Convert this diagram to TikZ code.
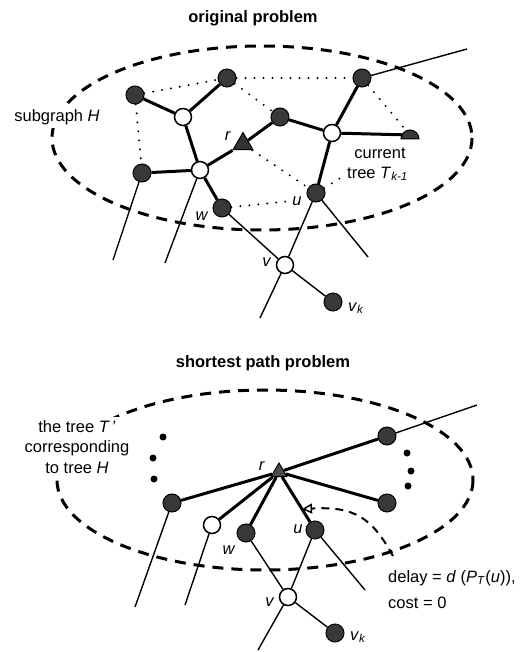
\documentclass[tikz,border=0pt]{standalone}
\usepackage{fontspec}
\setmainfont{Liberation Sans}
\usetikzlibrary{shapes.geometric,arrows.meta,calc}

\begin{document}
\begin{tikzpicture}[x=1pt,y=-1pt,
  every node/.style={font=\fontsize{16.5}{20.5}\selectfont},
  dark/.style={circle,draw=black,fill=black!78,line width=1pt,minimum size=18pt,inner sep=0pt},
  light/.style={circle,draw=black,fill=white,line width=1.5pt,minimum size=17pt,inner sep=0pt},
  root/.style={regular polygon,regular polygon sides=3,draw=black,fill=black!80,line width=1pt,inner sep=0pt},
  treeedge/.style={line width=3pt},
  thinedge/.style={line width=1.4pt},
  dotedge/.style={line width=2.2pt,dash pattern=on 0pt off 9pt,line cap=round},
  region/.style={line width=3pt,dash pattern=on 11pt off 8pt},
  lbl/.style={inner sep=0pt},
  masklbl/.style={fill=white,inner sep=3pt},
  title/.style={font=\fontsize{16.5}{20}\selectfont\bfseries,inner sep=0pt}
]
\useasboundingbox (0,0) rectangle (524,652);

% ---------------- upper panel ----------------
\node[title] (t1) at (253,18) {original problem};
\draw[region] (262,138) ellipse [x radius=210, y radius=92];

\node[dark]  (A)  at (135,95)  {};
\node[dark]  (B)  at (227,78)  {};
\node[light] (C)  at (183,117) {};
\node[dark]  (D)  at (280,117) {};
\node[dark]  (E)  at (362,78)  {};
\node[light] (F)  at (332,133) {};
\coordinate  (G)  at (410,135);
\node[root,minimum size=23pt] (r) at (243,144) {};
\node[light] (H)  at (200,170) {};
\node[dark]  (I)  at (142,173) {};
\node[dark]  (w)  at (222,208) {};
\node[dark]  (u)  at (316,193) {};
\node[light] (v)  at (285,265) {};
\node[dark]  (vk) at (333,302) {};

\coordinate (e1) at (113,260);
\coordinate (e2) at (165,263);
\coordinate (e3) at (368,257);
\coordinate (e4) at (467,49);
\coordinate (e5) at (260,318);

\node[lbl] (lr)  at (228,136) {\textit{r}};
\node[lbl] (lw)  at (202,216) {\textit{w}};
\node[lbl] (lu)  at (297,201) {\textit{u}};
\node[lbl] (lv)  at (267,262) {\textit{v}};
\node[lbl] (lvk) at (356,308) {\textit{v}\textsubscript{\textit{k}}};
\node[masklbl] (lH)  at (57,117)  {subgraph \textit{H}};
\node[lbl] (lcur) at (380,153) {current};
\node[lbl,anchor=west] (ltree) at (347,174) {tree \textit{T}\textsubscript{\textit{k-1}}};

% tree edges
\draw[treeedge] (A) -- (C);
\draw[treeedge] (B) -- (C);
\draw[treeedge] (C) -- (H);
\draw[treeedge] (H) -- (I);
\draw[treeedge] (H) -- (r);
\draw[treeedge] (r) -- (D);
\draw[treeedge] (D) -- (F);
\draw[treeedge] (F) -- (E);
\draw[treeedge] (F) -- (G);
\draw[treeedge] (F) -- (u);
\draw[treeedge] (H) -- (w);

% remaining graph edges
\draw[thinedge] (w) -- (v);
\draw[thinedge] (v) -- (vk);
\draw[thinedge] (u) -- (v);
\draw[thinedge] (v) -- (e5);
\draw[thinedge] (I) -- (e1);
\draw[thinedge] (H) -- (e2);
\draw[thinedge] (u) -- (e3);
\draw[thinedge] (E) -- (e4);

% edges of H outside the tree
\draw[dotedge] (A) -- (B);
\draw[dotedge] (A) -- (I);
\draw[dotedge] (B) -- (E);
\draw[dotedge] (B) -- (D);
\draw[dotedge] (E) -- (G);
\draw[dotedge] (r) -- (u);
\draw[dotedge] (w) -- (lu.west);
\draw[dotedge] (u) -- (ltree.west);

% half-disc leaf
\filldraw[fill=black!78,draw=black,line width=1pt] (401,139) arc[start angle=180,end angle=360,radius=9] -- cycle;

% ---------------- lower panel ----------------
\node[title] (t2) at (263,363) {shortest path problem};
\draw[region] (265,480) ellipse [x radius=208, y radius=90];

\node[root,minimum size=18pt,fill=black!70] (r2) at (279,472) {};
\node[dark]  (P1)  at (387,436) {};
\node[dark]  (P2)  at (387,503) {};
\node[dark]  (P3)  at (172,503) {};
\node[light] (P4)  at (212,525) {};
\node[dark]  (w2)  at (246,533) {};
\node[dark]  (u2)  at (315,530) {};
\node[light] (v2)  at (288,597) {};
\node[dark]  (vk2) at (335,633) {};

\coordinate (f1) at (477,405);
\coordinate (f2) at (135,607);
\coordinate (f3) at (185,605);
\coordinate (f4) at (365,590);
\coordinate (f5) at (258,650);

\draw[treeedge] (r2) -- (P1);
\draw[treeedge] (r2) -- (P2);
\draw[treeedge] (r2) -- (P3);
\draw[treeedge] (r2) -- (P4);
\draw[treeedge] (r2) -- (w2);
\draw[treeedge] (r2) -- (u2);

\draw[thinedge] (P1) -- (f1);
\draw[thinedge] (P3) -- (f2);
\draw[thinedge] (P4) -- (f3);
\draw[thinedge] (u2) -- (f4);
\draw[thinedge] (u2) -- (v2);
\draw[thinedge] (v2) -- (f5);
\draw[thinedge] (w2) -- (v2);
\draw[thinedge] (v2) -- (vk2);

% elided nodes
\foreach \p in {(163,437),(153,458),(154,479),(407,453),(411,471),(408,486)}
  \fill \p circle[radius=3.5];

\node[lbl] (lr2)  at (262,466) {\textit{r}};
\node[lbl] (lw2)  at (229,550) {\textit{w}};
\node[lbl] (lu2)  at (298,529) {\textit{u}};
\node[lbl] (lv2)  at (270,602) {\textit{v}};
\node[lbl] (lvk2) at (358,637) {\textit{v}\textsubscript{\textit{k}}};
\node[masklbl,align=center] (lT) at (77,447) {the tree \textit{T\,'}\\corresponding\\to tree \textit{H}};
\node[lbl,anchor=west] (ldelay) at (388,578) {delay = \textit{d} (\textit{P}\textsubscript{\textit{T}}(\textit{u})),};
\node[lbl,anchor=west] (lcost) at (388,603) {cost = 0};

% pointer from the delay label to the edge r-u
\coordinate (s) at (393,556);
\coordinate (tip) at ($(r2)!0.64!(u2)$);
\draw[line width=2pt,dash pattern=on 8pt off 6pt,
      -{Triangle[open,length=10pt,width=10pt,line width=1.5pt]}]
  (s) .. controls (372,518) and (355,506) .. (tip);
\end{tikzpicture}
\end{document}
